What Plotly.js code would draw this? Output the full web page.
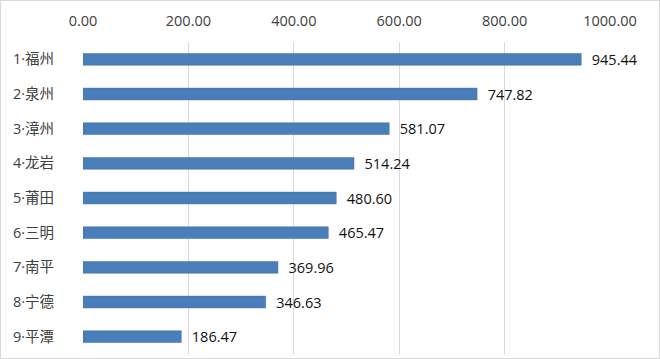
<!DOCTYPE html>
<html><head><meta charset="utf-8">
<script src="https://cdn.plot.ly/plotly-3.0.1.min.js"></script>
<style>html,body{margin:0;padding:0;background:#fff}#chart{width:658px;height:357px;border:1px solid #d9d9d9}</style>
</head><body><div id="chart"></div>
<script>
const categories = ["1·福州","2·泉州","3·漳州","4·龙岩","5·莆田","6·三明","7·南平","8·宁德","9·平潭"];
const values = [945.44, 747.82, 581.07, 514.24, 480.60, 465.47, 369.96, 346.63, 186.47];
const xTicks = [0, 200, 400, 600, 800, 1000];

const font = "'Open Sans', 'Noto Sans CJK SC', sans-serif";
Plotly.newPlot('chart', [{
  type: 'bar', orientation: 'h',
  y: categories, x: values,
  marker: {color: '#4a7ebb', line: {color: '#41719c', width: 0.5}},
  width: 0.34,
  text: values.map(v => '\u00a0\u00a0' + v.toFixed(2)),
  textposition: 'outside', cliponaxis: false, constraintext: 'none',
  textfont: {family: font, size: 14.5, color: '#111'},
  hoverinfo: 'none'
}], {
  width: 658, height: 357,
  margin: {l: 82, r: 49, t: 41, b: 4},
  paper_bgcolor: '#fff', plot_bgcolor: '#fff',
  showlegend: false,
  xaxis: {side: 'top', range: [0, 1000], tickvals: xTicks, tickformat: '.2f',
    showgrid: true, gridcolor: '#d9d9d9', gridwidth: 1, zeroline: false, showline: false,
    ticks: '', ticklabelstandoff: 12, tickfont: {family: font, size: 14.5, color: '#404040'}},
  yaxis: {autorange: 'reversed', type: 'category', showgrid: false, zeroline: false,
    showline: false, ticks: '', ticklabelstandoff: 28,
    tickfont: {family: font, size: 14.5, color: '#404040'}}
}, {staticPlot: true});
</script></body></html>
